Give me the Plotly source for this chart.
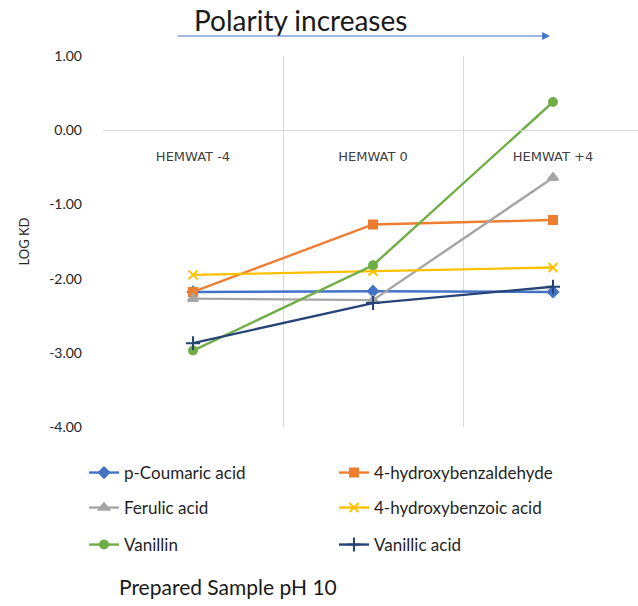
import plotly.graph_objects as go

categories = ["HEMWAT -4", "HEMWAT 0", "HEMWAT +4"]
p_coumaric = [-2.18, -2.17, -2.18]
hb_aldehyde = [-2.18, -1.27, -1.21]
ferulic = [-2.27, -2.29, -0.64]
hb_acid = [-1.95, -1.90, -1.85]
vanillin = [-2.97, -1.82, 0.38]
vanillic = [-2.87, -2.33, -2.11]

y_ticks = [1, 0, -1, -2, -3, -4]

series = [
    ("p-Coumaric acid", p_coumaric, "#4472C4", "diamond", 8, "legend"),
    ("4-hydroxybenzaldehyde", hb_aldehyde, "#ED7D31", "square", 8, "legend"),
    ("Ferulic acid", ferulic, "#A5A5A5", "triangle-up", 9, "legend2"),
    ("4-hydroxybenzoic acid", hb_acid, "#FFC000", "x-thin-open", 9, "legend2"),
    ("Vanillin", vanillin, "#70AD47", "circle", 8, "legend3"),
    ("Vanillic acid", vanillic, "#264478", "cross-thin-open", 10, "legend3"),
]

fig = go.Figure()
for name, vals, color, sym, size, leg in series:
    fig.add_trace(go.Scatter(
        x=categories, y=vals, name=name, mode="lines+markers",
        line=dict(color=color, width=2.4),
        marker=dict(symbol=sym, size=size, color=color,
                    line=dict(color=color, width=2)),
        legend=leg,
    ))

W, H = 638, 606
L, R, T, B = 103, 0, 56, 179
pw, ph = W - L - R, H - T - B


def px(xp):
    return (xp - L) / pw


def py(yp):
    return (H - B - yp) / ph


legend_common = dict(orientation="h", xref="paper", yref="paper",
                     yanchor="middle", xanchor="left", entrywidth=205,
                     font=dict(family="Lato", size=17, color="#1f1f1f"),
                     bgcolor="rgba(0,0,0,0)", itemwidth=30)

fig.update_layout(
    width=W, height=H,
    margin=dict(l=L, r=R, t=T, b=B),
    paper_bgcolor="white", plot_bgcolor="white",
    font=dict(family="Lato", color="#404040"),
    showlegend=True,
    legend=dict(x=px(84), y=py(473), **legend_common),
    legend2=dict(x=px(84), y=py(508), **legend_common),
    legend3=dict(x=px(84), y=py(545), **legend_common),
    xaxis=dict(
        type="category", range=[-0.5, 2.5 - 5 / 180],
        tickson="boundaries", showgrid=True, gridcolor="#d9d9d9", gridwidth=1,
        anchor="free", position=0.8,
        showline=True, linecolor="#d9d9d9", linewidth=1,
        ticks="", ticklabelstandoff=14,
        tickfont=dict(family="DejaVu Sans", size=13, color="#404040"),
        zeroline=False,
    ),
    yaxis=dict(
        range=[-4, 1], tickvals=y_ticks,
        ticktext=[f"{v:.2f}" for v in y_ticks],
        showgrid=False, zeroline=False, showline=False,
        ticks="", ticklabelstandoff=20,
        tickfont=dict(family="Lato", size=14, color="#262626"),
        title=dict(text="LOG KD", standoff=16,
                   font=dict(family="Lato", size=13, color="#262626")),
    ),
    annotations=[
        dict(text="Polarity increases", x=px(300), y=py(20), xref="paper",
             yref="paper", showarrow=False, xanchor="center", yanchor="middle",
             font=dict(family="Lato", size=28, color="#1a1a1a")),
        dict(text="", x=px(550), y=py(36), xref="paper", yref="paper",
             ax=-374, ay=0, axref="pixel", ayref="pixel", showarrow=True,
             arrowhead=2, arrowsize=1.3, arrowwidth=1.2, arrowcolor="#4472C4"),
        dict(text="Prepared Sample pH 10", x=px(228), y=py(586), xref="paper",
             yref="paper", showarrow=False, xanchor="center", yanchor="middle",
             font=dict(family="Lato", size=21, color="#1a1a1a")),
    ],
)

fig.write_html("out.html")
